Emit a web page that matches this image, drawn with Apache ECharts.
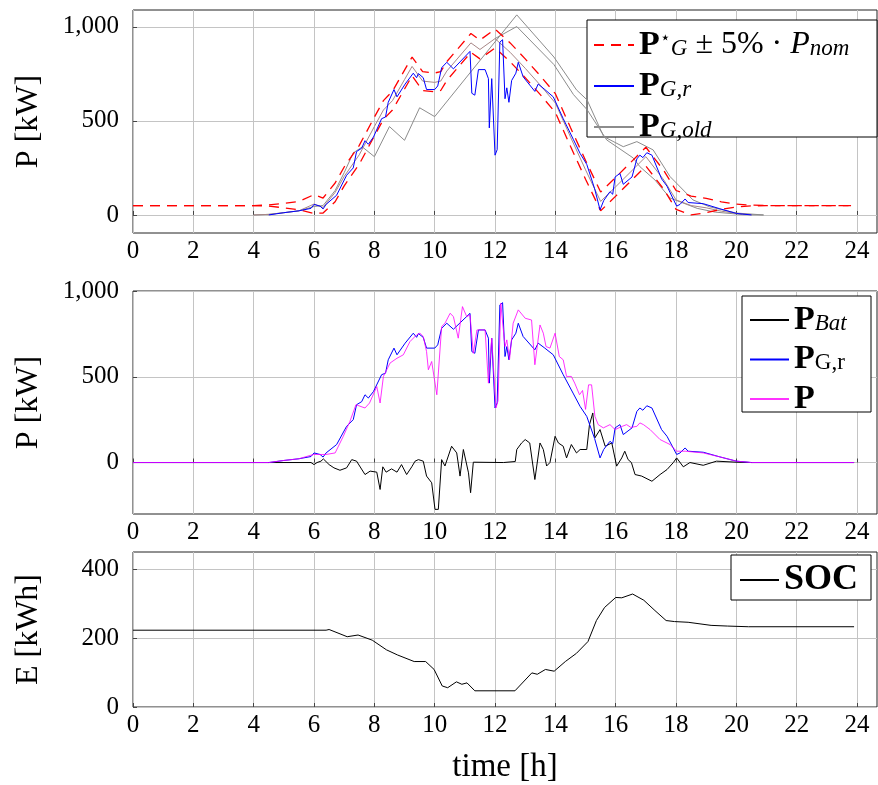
<!DOCTYPE html>
<html>
<head>
<meta charset="utf-8">
<script src="https://cdn.jsdelivr.net/npm/echarts@6/dist/echarts.min.js"></script>
<style>
html,body{margin:0;padding:0;background:#fff}
#chart{width:878px;height:785px}
</style>
</head>
<body>
<div id="chart"></div>
<script>
// tick labels
var xTicks = [0, 2, 4, 6, 8, 10, 12, 14, 16, 18, 20, 22, 24];
var yTicksP = [0, 500, 1000];
var yTicksE = [0, 200, 400];

// reference P*_G and its +-5% band (top plot)
var tRef = [0, 4, 4.5, 5, 5.5, 6, 6.3, 6.7, 7, 7.5, 8, 8.3, 8.6, 9, 9.25, 9.6, 10, 10.2, 10.4, 10.8, 11.2, 11.5, 12, 12.5, 13, 13.5, 14, 14.5, 15, 15.5, 16, 16.5, 17, 17.6, 18, 18.5, 19, 19.5, 20, 20.5, 21, 23.8];
var pRef = [0, 0, 3, 12, 22, 58, 40, 120, 205, 320, 470, 558, 608, 720, 790, 712, 705, 712, 765, 840, 915, 880, 938, 865, 780, 690, 595, 415, 240, 72, 150, 230, 310, 185, 80, 50, 38, 20, 8, 2, 0, 0];
var pRefUp = [50, 50, 53, 62, 72, 108, 90, 170, 255, 370, 520, 608, 658, 770, 840, 762, 755, 762, 815, 890, 965, 930, 988, 915, 830, 740, 645, 465, 290, 122, 200, 280, 360, 235, 130, 100, 88, 70, 58, 52, 50, 50];
var pRefLo = [50, 50, 47, 38, 28, 8, 10, 70, 155, 270, 420, 508, 558, 670, 740, 662, 655, 662, 715, 790, 865, 830, 888, 815, 730, 640, 545, 365, 190, 22, 100, 180, 260, 135, 30, 0, 12, 30, 42, 48, 50, 50];

// old grid profiles (top plot)
var pOldA = [[4.0,0],[4.5,3],[5.0,12],[5.5,22],[6.0,45],[6.3,50],[6.7,130],[7.0,225],[7.3,330],[7.6,362],[8.0,310],[8.5,470],[9.0,397],[9.5,570],[10.0,523],[12.72,1064],[13.95,840],[14.7,665],[15.05,612],[15.6,417],[16.25,363],[16.7,390],[17.24,346],[17.8,204],[18.56,80],[19.1,44],[20.0,10],[20.9,0]];
var pOldB = [[12.0,938],[12.72,1002],[13.95,800],[14.6,640],[15.05,560],[15.7,399],[16.58,303],[16.8,257],[17.3,186],[17.8,90],[18.7,35],[19.3,15],[20.2,2],[20.9,0]];

// P_G,r
var pGr = [[0,0],[4.5,0],[5.0,12],[5.5,22],[5.9,35],[6.0,56],[6.2,47],[6.3,32],[6.4,56],[6.75,105],[7.08,211],[7.3,250],[7.41,337],[7.58,355],[7.69,395],[7.8,376],[7.97,414],[8.24,512],[8.37,521],[8.46,599],[8.65,667],[8.75,628],[9.02,696],[9.29,754],[9.4,730],[9.46,752],[9.62,730],[9.73,667],[10.0,667],[10.1,686],[10.23,783],[10.4,812],[10.62,777],[11.17,870],[11.23,647],[11.33,637],[11.45,773],[11.67,773],[11.78,725],[11.81,463],[11.89,725],[12.0,318],[12.07,347],[12.16,919],[12.25,932],[12.33,618],[12.39,676],[12.46,599],[12.55,715],[12.69,754],[12.77,812],[12.93,735],[13.32,657],[13.43,696],[13.65,667],[13.93,628],[14.26,512],[14.6,400],[14.82,327],[15.04,269],[15.3,140],[15.48,27],[15.6,76],[15.81,124],[15.9,110],[15.98,202],[16.14,221],[16.25,163],[16.54,202],[16.7,298],[16.8,318],[16.9,305],[17.03,331],[17.2,318],[17.52,192],[17.7,153],[18.02,47],[18.13,56],[18.3,85],[18.4,66],[18.9,60],[19.45,33],[20.0,8],[20.5,0],[23.9,0]];

// P (load)
var pLoad = [[0,0],[4.5,0],[5.0,12],[5.5,22],[5.98,47],[6.4,47],[6.7,56],[6.97,153],[7.19,240],[7.39,337],[7.69,318],[7.84,347],[8.08,443],[8.19,347],[8.3,502],[8.52,580],[8.75,608],[8.96,628],[9.18,705],[9.4,744],[9.51,754],[9.62,735],[9.73,647],[9.79,541],[9.9,589],[10.07,395],[10.12,400],[10.23,793],[10.34,812],[10.51,870],[10.62,851],[10.78,725],[10.92,909],[11.06,851],[11.17,860],[11.28,637],[11.4,773],[11.67,773],[11.78,463],[11.89,725],[12.03,318],[12.1,360],[12.19,928],[12.25,938],[12.33,676],[12.39,715],[12.48,599],[12.6,812],[12.77,890],[13.0,841],[13.21,831],[13.32,570],[13.49,802],[13.6,754],[13.69,676],[13.82,667],[13.99,754],[14.13,618],[14.26,599],[14.37,502],[14.53,502],[14.64,463],[14.8,395],[14.9,420],[15.0,310],[15.1,453],[15.2,453],[15.31,269],[15.42,221],[15.59,202],[15.81,221],[15.98,192],[16.2,210],[16.36,221],[16.5,205],[16.7,211],[16.8,231],[16.92,221],[17.14,192],[17.47,134],[17.8,105],[18.02,66],[18.3,66],[18.9,56],[19.45,33],[20.0,8],[20.5,0],[23.9,0]];

// P_Bat
var pBat = [[0,0],[5.9,0],[6.0,-12],[6.1,0],[6.23,8],[6.31,21],[6.5,-12],[6.66,-31],[6.86,-45],[7.08,-31],[7.25,17],[7.41,8],[7.69,-70],[7.86,-50],[8.08,-56],[8.19,-157],[8.28,-25],[8.39,-56],[8.57,-37],[8.75,-56],[8.9,-12],[9.07,-70],[9.24,-25],[9.35,8],[9.46,17],[9.62,8],[9.73,-79],[9.9,-118],[10.01,-273],[10.12,-273],[10.23,17],[10.34,-20],[10.56,95],[10.73,56],[10.84,-79],[10.95,76],[11.12,-60],[11.19,-176],[11.28,2],[12.28,0],[12.67,6],[12.72,76],[12.88,114],[13.0,134],[13.15,114],[13.32,-99],[13.49,114],[13.6,76],[13.71,-20],[13.82,0],[13.99,153],[14.1,114],[14.26,95],[14.37,27],[14.53,105],[14.7,56],[14.82,76],[15.04,76],[15.13,221],[15.24,289],[15.31,144],[15.48,192],[15.65,95],[15.87,114],[16.03,-21],[16.2,27],[16.3,66],[16.41,17],[16.52,0],[16.64,-70],[16.86,-79],[17.2,-109],[17.47,-70],[17.7,-41],[17.91,0],[18.02,27],[18.24,-25],[18.46,0],[18.9,-16],[19.34,8],[20.0,2],[20.5,0],[23.9,0]];

// SOC
var soc = [[0,223],[6.4,223],[6.5,225],[7.1,204],[7.46,209],[7.93,194],[8.4,166],[8.77,151],[9.32,132],[9.7,132],[9.98,109],[10.25,61],[10.43,56],[10.72,73],[10.9,66],[11.07,70],[11.33,47],[12.66,47],[13.22,99],[13.4,95],[13.67,109],[13.96,104],[14.33,132],[14.7,156],[15.08,190],[15.36,251],[15.63,289],[16.0,318],[16.2,317],[16.56,328],[16.93,310],[17.3,280],[17.67,251],[17.95,248],[18.4,246],[19.16,237],[19.7,235],[20.4,233],[23.9,233]];

var F = "'Liberation Serif', 'DejaVu Serif', serif";

function zip(t, v) {
	return t.map(function(x, i){ return [x, v[i]]; });
}
function day(d) {
	return d.filter(function(p){ return p[0] >= 4 && p[0] <= 20.9; });
}

var rich = {
	b: {fontFamily: F, fontWeight: 'bold', fontSize: 34, lineHeight: 30, color: '#000'},
	bs: {fontFamily: F, fontWeight: 'bold', fontSize: 36, lineHeight: 30, color: '#000'},
	n: {fontFamily: F, fontSize: 32, lineHeight: 30, color: '#000'},
	i: {fontFamily: F, fontStyle: 'italic', fontSize: 32, lineHeight: 30, color: '#000'},
	sub: {fontFamily: F, fontStyle: 'italic', fontSize: 23, lineHeight: 14, verticalAlign: 'bottom', color: '#000'},
	subr: {fontFamily: F, fontSize: 23, lineHeight: 14, verticalAlign: 'bottom', color: '#000'},
	sup: {fontFamily: F, fontSize: 17, lineHeight: 12, verticalAlign: 'top', color: '#000'}
};
var names = {
	'Pstar': '{b|P}{sup|\u22c6}{sub|G}{n| \u00b1 5% \u00b7 }{i|P}{sub|nom}',
	'PGr': '{b|P}{sub|G,r}',
	'PGold': '{b|P}{sub|G,old}',
	'PBat': '{b|P}{sub|Bat}',
	'PGrm': '{b|P}{subr|G,r}',
	'P': '{b|P}',
	'SOC': '{bs|SOC}'
};

function xAx(i, name) {
	return {
		type: 'value', gridIndex: i, min: 0, max: 24.66,
		name: name || '', nameLocation: 'middle', nameGap: 44,
		nameTextStyle: {fontFamily: F, fontSize: 33, color: '#000'},
		axisLine: {show: false},
		axisTick: {show: true, inside: true, length: 4, customValues: xTicks, lineStyle: {color: '#444'}},
		axisLabel: {customValues: xTicks, color: '#000', fontFamily: F, fontSize: 25, margin: 6},
		splitLine: {show: true, lineStyle: {color: '#c4c4c4', width: 1}}
	};
}
function yAx(i, min, max, ticks, name) {
	return {
		type: 'value', gridIndex: i, min: min, max: max,
		name: name, nameLocation: 'middle', nameGap: 88,
		nameTextStyle: {fontFamily: F, fontSize: 32, color: '#000'},
		axisLine: {show: false},
		axisTick: {show: true, inside: true, length: 4, customValues: ticks, lineStyle: {color: '#444'}},
		axisLabel: {customValues: ticks, color: '#000', fontFamily: F, fontSize: 25, margin: 14,
			formatter: function(v){ return v >= 1000 ? '1,000' : String(v); }},
		splitLine: {show: true, lineStyle: {color: '#c4c4c4', width: 1}}
	};
}
function line(name, data, xi, color, extra) {
	var s = {
		name: name, type: 'line', xAxisIndex: xi, yAxisIndex: xi, data: data,
		symbol: 'none', animation: false, silent: true,
		lineStyle: {color: color, width: 1},
		itemStyle: {color: color}
	};
	if (extra) for (var k in extra) s[k] = extra[k];
	return s;
}
function legend(data, left, top, gap, w) {
	return {
		data: data, orient: 'vertical', left: left, top: top, itemGap: gap,
		itemWidth: w, itemHeight: 1, padding: 0, selectedMode: false,
		itemStyle: {opacity: 0},
		textStyle: {rich: rich},
		formatter: function(n){ return names[n]; }
	};
}
function box(x, y, w, h) {
	return {type: 'rect', z: 3, shape: {x: x, y: y, width: w, height: h},
		style: {fill: '#fff', stroke: '#000', lineWidth: 1}};
}

var myChart = echarts.init(document.getElementById('chart'));
var dashed = {type: [10, 7], width: 1.3, color: '#ff0000'};

option = {
	backgroundColor: '#fff',
	animation: false,
	grid: [
		{left: 133, top: 10, width: 744, height: 223, show: true, borderColor: '#222', borderWidth: 1},
		{left: 133, top: 291, width: 744, height: 223, show: true, borderColor: '#222', borderWidth: 1},
		{left: 133, top: 552, width: 744, height: 156, show: true, borderColor: '#222', borderWidth: 1}
	],
	xAxis: [xAx(0), xAx(1), xAx(2, 'time [h]')],
	yAxis: [
		yAx(0, -96, 1090, yTicksP, 'P [kW]'),
		yAx(1, -300, 1000, yTicksP, 'P [kW]'),
		yAx(2, 0, 450, yTicksE, 'E [kWh]')
	],
	legend: [
		legend(['Pstar', 'PGr', 'PGold'], 593, 28, 7, 40),
		legend(['PBat', 'PGrm', 'P'], 749, 303, 5.5, 39),
		legend(['SOC'], 739, 562, 5, 39)
	],
	graphic: [box(587, 20, 290, 117), box(742, 296, 129, 116), box(731, 555, 140, 45)],
	series: [
		line('PGold', pOldA, 0, '#8c8c8c'),
		line('PGold', pOldB, 0, '#8c8c8c'),
		line('PGold', day(zip(tRef, pRef)), 0, '#a88787'),
		line('Pstar', zip(tRef, pRefUp), 0, '#ff0000', {lineStyle: dashed}),
		line('Pstar', zip(tRef, pRefLo), 0, '#ff0000', {lineStyle: dashed}),
		line('PGr', day(pGr), 0, '#0000ff'),
		line('PBat', pBat, 1, '#000000'),
		line('PGrm', pGr, 1, '#0000ff'),
		line('P', pLoad, 1, '#ff00ff', {lineStyle: {color: '#ff00ff', width: 1, opacity: 0.8}}),
		line('SOC', soc, 2, '#000000')
	]
};

myChart.setOption(option);
window.onresize = myChart.resize;
</script>
</body>
</html>
